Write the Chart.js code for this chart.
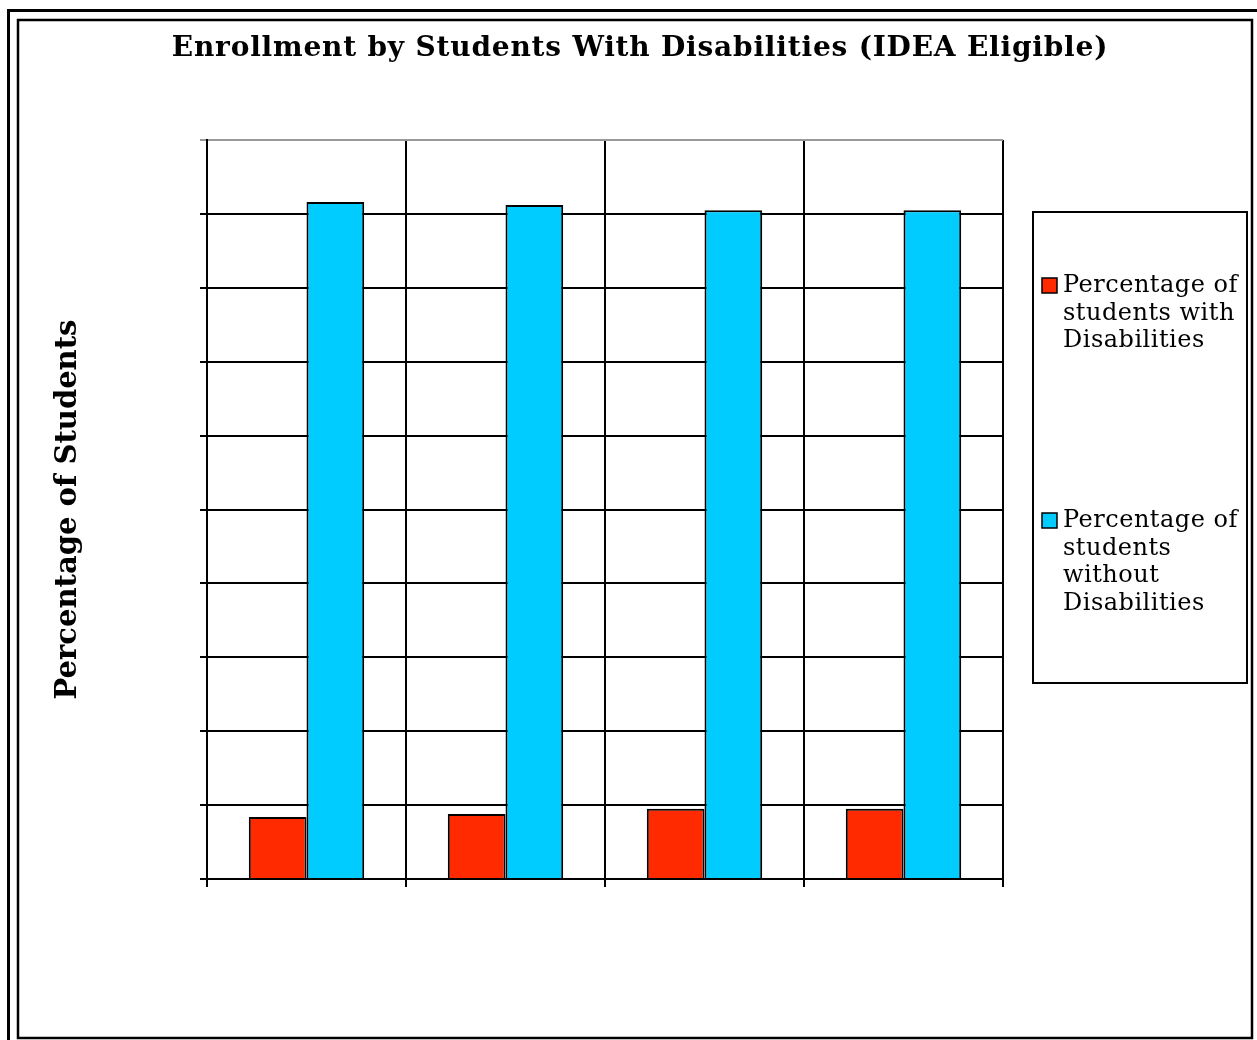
<!DOCTYPE html>
<html>
<head>
<meta charset="utf-8">
<title>Enrollment by Students With Disabilities</title>
<script src="https://cdn.jsdelivr.net/npm/chart.js@4.4.1/dist/chart.umd.min.js"></script>
<style>
    html, body { margin: 0; padding: 0; background: #fff; }
    #wrap { position: relative; width: 1257px; height: 1040px; }
</style>
</head>
<body>
<div id="wrap"><canvas id="enrollChart" width="1257" height="1040"></canvas></div>
<script>
// four groups, no category labels shown on the axis
const categories = ["", "", "", ""];
const withDisabilities = [8.4, 8.8, 9.5, 9.5];
const withoutDisabilities = [91.6, 91.2, 90.5, 90.5];
const yTicks = [0, 10, 20, 30, 40, 50, 60, 70, 80, 90, 100];

const chartTitle = "Enrollment by Students With Disabilities (IDEA Eligible)";
const yTitle = "Percentage of Students";
const seriesLabels = ["Percentage of students with Disabilities", "Percentage of students without Disabilities"];

// double page frame + title
const framePlugin = {
    id: "frame",
    beforeDraw(chart) {
        const ctx = chart.ctx;
        ctx.save();
        ctx.fillStyle = "#fff";
        ctx.fillRect(0, 0, chart.width, chart.height);
        ctx.strokeStyle = "#000";
        ctx.lineWidth = 3;
        ctx.strokeRect(8.5, 10.5, 1260, 1050);
        ctx.lineWidth = 2.5;
        ctx.strokeRect(18, 20, 1234, 1018);
        ctx.fillStyle = "#000";
        ctx.font = "bold 28px 'DejaVu Serif'";
        ctx.letterSpacing = "0.8px";
        ctx.textAlign = "center";
        ctx.textBaseline = "middle";
        ctx.fillText(chartTitle, 640, 49);
        ctx.restore();
    }
};

// boxed legend on the right, wrapped labels
const boxLegend = {
    id: "boxLegend",
    afterDraw(chart) {
        const ctx = chart.ctx;
        ctx.save();
        ctx.strokeStyle = "#000";
        ctx.lineWidth = 2;
        ctx.strokeRect(1033, 212, 214, 471);
        ctx.font = "24px 'DejaVu Serif'";
        ctx.letterSpacing = "0.5px";
        ctx.textAlign = "left";
        ctx.textBaseline = "middle";
        const itemTops = [286, 521];
        chart.data.datasets.forEach((ds, i) => {
            const y0 = itemTops[i];
            ctx.fillStyle = ds.backgroundColor;
            ctx.fillRect(1042, y0 - 8, 15, 15);
            ctx.lineWidth = 1.5;
            ctx.strokeRect(1042, y0 - 8, 15, 15);
            // word wrap into the legend box
            const words = ds.label.split(" ");
            const lines = [];
            let line = "";
            words.forEach(w => {
                const test = line ? line + " " + w : w;
                if (ctx.measureText(test).width > 182 && line) {
                    lines.push(line);
                    line = w;
                } else {
                    line = test;
                }
            });
            lines.push(line);
            ctx.fillStyle = "#000";
            lines.forEach((t, k) => ctx.fillText(t, 1063, y0 + k * 27.5));
        });
        ctx.restore();
    }
};

const ctx = document.getElementById("enrollChart").getContext("2d");
const enrollChart = new Chart(ctx, {
    type: "bar",
    data: {
        labels: categories,
        datasets: [
            {
                label: seriesLabels[0],
                data: withDisabilities,
                backgroundColor: "#FF2A00",
                borderColor: "#000",
                borderWidth: 2
            },
            {
                label: seriesLabels[1],
                data: withoutDisabilities,
                backgroundColor: "#00CCFF",
                borderColor: "#000",
                borderWidth: 2
            }
        ]
    },
    options: {
        responsive: false,
        animation: false,
        devicePixelRatio: 1,
        layout: { padding: { left: 20, top: 140, right: 254, bottom: 131 } },
        datasets: { bar: { barPercentage: 1, categoryPercentage: 0.58 } },
        plugins: {
            legend: { display: false },
            title: { display: false },
            tooltip: { enabled: false }
        },
        scales: {
            x: {
                grid: {
                    color: "#000",
                    lineWidth: ctx => ctx.index === categories.length ? 3 : 2,
                    tickLength: 8
                },
                border: { color: "#000", width: 2 },
                ticks: { display: false },
                afterFit: scale => { scale.height = 30; }
            },
            y: {
                min: 0,
                max: 100,
                afterBuildTicks: scale => { scale.ticks = yTicks.map(v => ({ value: v })); },
                grid: {
                    color: ctx => ctx.tick && ctx.tick.value === 100 ? "#999" : "#000",
                    lineWidth: 2,
                    tickLength: 7
                },
                border: { color: "#000", width: 2 },
                ticks: { display: false },
                title: {
                    display: true,
                    text: yTitle,
                    color: "#000",
                    font: { family: "'DejaVu Serif'", size: 29, weight: "bold" },
                    padding: { top: 31, bottom: 0 }
                },
                afterFit: scale => { scale.width = 187; }
            }
        }
    },
    plugins: [framePlugin, boxLegend]
});
</script>
</body>
</html>
